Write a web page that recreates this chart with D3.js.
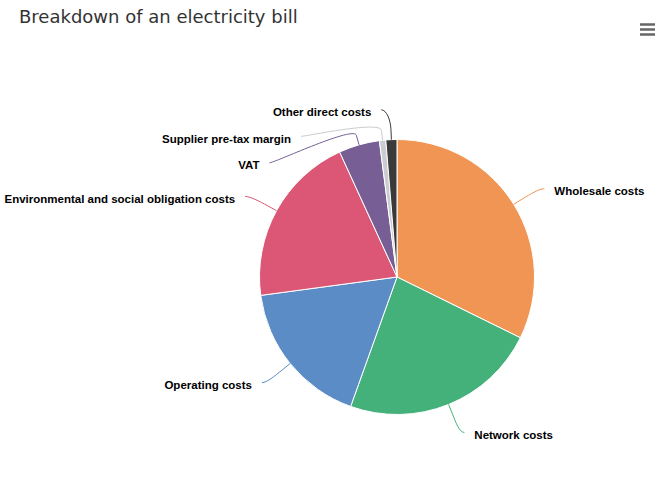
<!DOCTYPE html>
<html>
<head>
<meta charset="utf-8">
<script src="https://cdn.jsdelivr.net/npm/d3@7"></script>
<style>
  body { margin: 0; background: #fff; }
  .label { font-family: "Liberation Sans", Arial, sans-serif; font-size: 11.5px; font-weight: bold; fill: #000;
           stroke: #fff; stroke-width: 2px; stroke-linejoin: round; paint-order: stroke; }
</style>
</head>
<body>
<div id="chart"></div>
<script>
// Data (percent of the bill)
var categories = ["Wholesale costs", "Network costs", "Operating costs",
  "Environmental and social obligation costs", "VAT",
  "Supplier pre-tax margin", "Other direct costs"];
var values = [32.3, 23.2, 17.4, 20.3, 4.8, 0.75, 1.3];
var colors = ["#f09553", "#44b17a", "#5b8cc5", "#dc5776", "#775f95", "#c9ccd1", "#3a3a3a"];

// Basic setup
var width = 662,
  height = 483,
  center = { x: 397, y: 277 },
  radius = 137.5,
  labelDistance = 30,
  labelSpacing = 26.5;

var svg = d3.select("#chart").append("svg")
  .attr("width", width)
  .attr("height", height);

// Title
svg.append("text")
  .attr("x", 19)
  .attr("y", 23)
  .style("font-family", "'DejaVu Sans', sans-serif")
  .style("font-size", "18px")
  .style("fill", "#333")
  .text("Breakdown of an electricity bill");

// Menu icon
svg.append("g").selectAll("line")
  .data([24.5, 29.5, 34.5])
  .enter().append("line")
    .attr("x1", 640).attr("x2", 655)
    .attr("y1", d => d).attr("y2", d => d)
    .attr("stroke", "#666")
    .attr("stroke-width", 2.5);

var data = categories.map((c, i) => ({ name: c, value: values[i], color: colors[i] }));

var pie = d3.pie().sort(null).value(d => d.value);
var arc = d3.arc().innerRadius(0).outerRadius(radius);
var arcs = pie(data);

var g = svg.append("g")
  .attr("transform", "translate(" + center.x + "," + center.y + ")");

g.selectAll("path.slice")
  .data(arcs)
  .enter().append("path")
    .attr("class", "slice")
    .attr("d", arc)
    .attr("fill", d => d.data.color)
    .attr("stroke", "#fff")
    .attr("stroke-width", 1)
    .attr("stroke-linejoin", "round");

// Label placement: natural position on a circle outside the pie,
// then push overlapping labels down on each side
var R = radius + labelDistance;
arcs.forEach(a => {
  a.mid = (a.startAngle + a.endAngle) / 2;
  a.side = a.mid < Math.PI ? 1 : -1;
  a.ly = -R * Math.cos(a.mid) + 0.2;
});

[1, -1].forEach(side => {
  var list = arcs.filter(a => a.side === side).sort((a, b) => a.ly - b.ly);
  for (var i = 1; i < list.length; i++) {
    if (list[i].ly < list[i - 1].ly + labelSpacing) list[i].ly = list[i - 1].ly + labelSpacing;
  }
});

arcs.forEach(a => {
  var yy = Math.max(-R, Math.min(R, a.ly));
  a.lx = a.side * (Math.sqrt(R * R - yy * yy) + 5);
});

function connector(a) {
  var sin = Math.sin(a.mid), cos = -Math.cos(a.mid);
  var touch = { x: radius * sin, y: radius * cos };
  var brk = { x: (radius + 10) * sin, y: (radius + 10) * cos };
  var p = d3.path();
  p.moveTo(a.lx, a.ly);
  p.bezierCurveTo(a.lx - a.side * 5, a.ly, 2 * brk.x - touch.x, 2 * brk.y - touch.y, brk.x, brk.y);
  p.lineTo(touch.x, touch.y);
  return p.toString();
}

g.selectAll("path.connector")
  .data(arcs)
  .enter().append("path")
    .attr("class", "connector")
    .attr("d", connector)
    .attr("fill", "none")
    .attr("stroke", d => d.data.color)
    .attr("stroke-width", 1);

g.selectAll("text.label")
  .data(arcs)
  .enter().append("text")
    .attr("class", "label")
    .attr("x", d => d.lx + d.side * 10)
    .attr("y", d => d.ly + 2.3)
    .attr("dy", "0.35em")
    .attr("text-anchor", d => d.side > 0 ? "start" : "end")
    .text(d => d.data.name);
</script>
</body>
</html>
